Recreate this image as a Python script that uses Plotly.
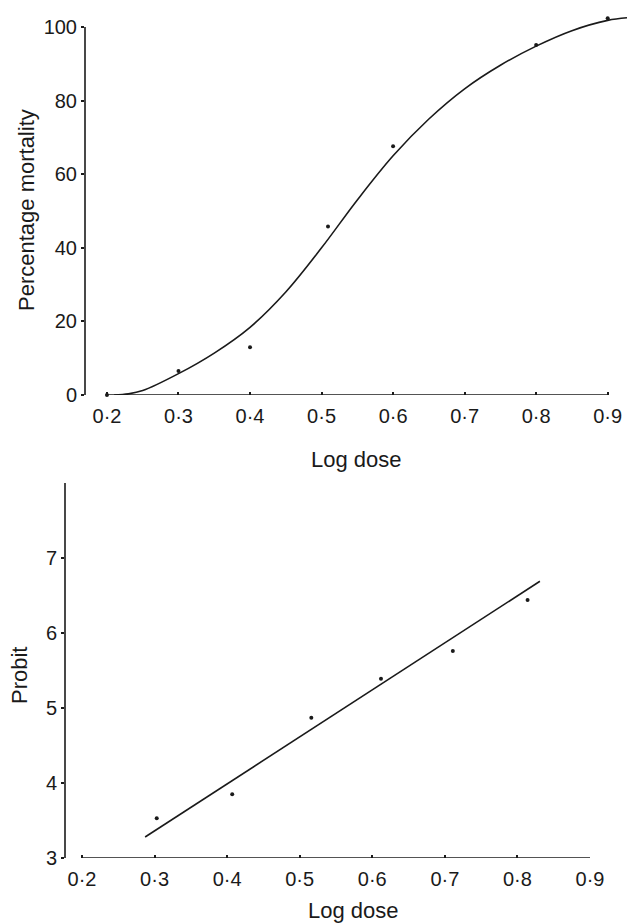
import plotly.graph_objects as go

# ---- data ----
tick_vals_x = [0.2, 0.3, 0.4, 0.5, 0.6, 0.7, 0.8, 0.9]
tick_text_x = ["0·2", "0·3", "0·4", "0·5", "0·6", "0·7", "0·8", "0·9"]

mort_ticks = [0, 20, 40, 60, 80, 100]
probit_ticks = [3, 4, 5, 6, 7]

# top panel: observed mortality points
mort_x = [0.2, 0.3, 0.4, 0.509, 0.6, 0.8, 0.9]
mort_y = [0.0, 6.5, 13.0, 45.8, 67.6, 95.1, 102.4]

# top panel: fitted sigmoid curve
curve_x = [0.21, 0.23, 0.25, 0.30, 0.35, 0.40, 0.45, 0.50, 0.55, 0.60, 0.65, 0.70, 0.75, 0.80, 0.85, 0.90, 0.927]
curve_y = [0.0, 0.3, 1.2, 5.8, 11.4, 18.4, 28.0, 40.0, 53.0, 65.0, 75.0, 83.2, 89.6, 94.8, 99.0, 101.8, 102.5]

# bottom panel: probit points
probit_x = [0.303, 0.407, 0.516, 0.612, 0.711, 0.814]
probit_y = [3.53, 3.85, 4.87, 5.39, 5.76, 6.44]

# bottom panel: fitted straight line (end points as drawn)
fit_x = [0.287, 0.831]
fit_y = [3.28, 6.69]

INK = "#1a1a1a"
FONT = "Liberation Sans"
W, H = 627, 923


def px(x):
    return x / W


def py(y):
    return 1 - y / H


fig = go.Figure()

fig.add_trace(go.Scatter(x=curve_x, y=curve_y, mode="lines",
                         line=dict(color=INK, width=1.6, shape="spline", smoothing=1.0),
                         xaxis="x", yaxis="y", showlegend=False, hoverinfo="skip"))
fig.add_trace(go.Scatter(x=mort_x, y=mort_y, mode="markers",
                         marker=dict(color=INK, size=4), cliponaxis=False,
                         xaxis="x", yaxis="y", showlegend=False))
fig.add_trace(go.Scatter(x=fit_x, y=fit_y, mode="lines",
                         line=dict(color=INK, width=1.6),
                         xaxis="x2", yaxis="y2", showlegend=False, hoverinfo="skip"))
fig.add_trace(go.Scatter(x=probit_x, y=probit_y, mode="markers",
                         marker=dict(color=INK, size=4), cliponaxis=False,
                         xaxis="x2", yaxis="y2", showlegend=False))

# axis lines (drawn in data coordinates, only over the labelled span)
shapes = [
    dict(type="line", xref="x", yref="y", x0=tick_vals_x[0], x1=tick_vals_x[-1], y0=0, y1=0,
         line=dict(color=INK, width=1.6)),
    dict(type="line", xref="x domain", yref="y", x0=0, x1=0, y0=0, y1=mort_ticks[-1],
         line=dict(color=INK, width=1.6)),
    dict(type="line", xref="x2", yref="y2", x0=tick_vals_x[0], x1=tick_vals_x[-1], y0=3, y1=3,
         line=dict(color=INK, width=1.6)),
    dict(type="line", xref="x2 domain", yref="y2", x0=0, x1=0, y0=3, y1=8,
         line=dict(color=INK, width=1.6)),
]

tickfont = dict(family=FONT, size=20, color=INK)
common_x = dict(tickmode="array", tickvals=tick_vals_x, ticktext=tick_text_x,
                showgrid=False, zeroline=False, showline=False,
                ticks="inside", ticklen=3, tickcolor=INK, tickwidth=1.5,
                tickfont=tickfont, automargin=False, fixedrange=True,
                ticklabeloverflow="allow", ticklabelstandoff=7)
common_y = dict(showgrid=False, zeroline=False, showline=False,
                ticks="outside", ticklen=3, tickcolor=INK, tickwidth=1.5,
                tickfont=tickfont, automargin=False, fixedrange=True,
                ticklabeloverflow="allow")

title_font = dict(family=FONT, size=22, color=INK)

fig.update_layout(
    width=W, height=H,
    margin=dict(l=0, r=0, t=0, b=0),
    paper_bgcolor="white", plot_bgcolor="white",
    xaxis=dict(domain=[px(85), 1.0], range=[0.1693, 0.927], anchor="y", **common_x),
    yaxis=dict(domain=[py(395), py(14.1)], range=[0, 103.5], anchor="x",
               tickvals=mort_ticks, **common_y),
    xaxis2=dict(domain=[px(65), px(590)], range=[0.1766, 0.90], anchor="y2", **common_x),
    yaxis2=dict(domain=[py(858), py(483)], range=[3, 8.0], anchor="x2",
                tickvals=probit_ticks, **common_y),
    shapes=shapes,
    annotations=[
        dict(text="Log dose", xref="paper", yref="paper", x=px(356), y=py(460),
             xanchor="center", yanchor="middle", showarrow=False, font=title_font),
        dict(text="Percentage mortality", xref="paper", yref="paper", x=px(27), y=py(210),
             xanchor="center", yanchor="middle", textangle=-90, showarrow=False, font=title_font),
        dict(text="Log dose", xref="paper", yref="paper", x=px(354), y=py(910),
             xanchor="center", yanchor="middle", showarrow=False, font=title_font),
        dict(text="Probit", xref="paper", yref="paper", x=px(19), y=py(676),
             xanchor="center", yanchor="middle", textangle=-90, showarrow=False, font=title_font),
    ],
)

# remove the default 8px page margin so the figure fills the window exactly
fig.write_html("out.html", config={"displayModeBar": False},
               post_script="document.body.style.margin='0';document.documentElement.style.overflow='hidden';")
